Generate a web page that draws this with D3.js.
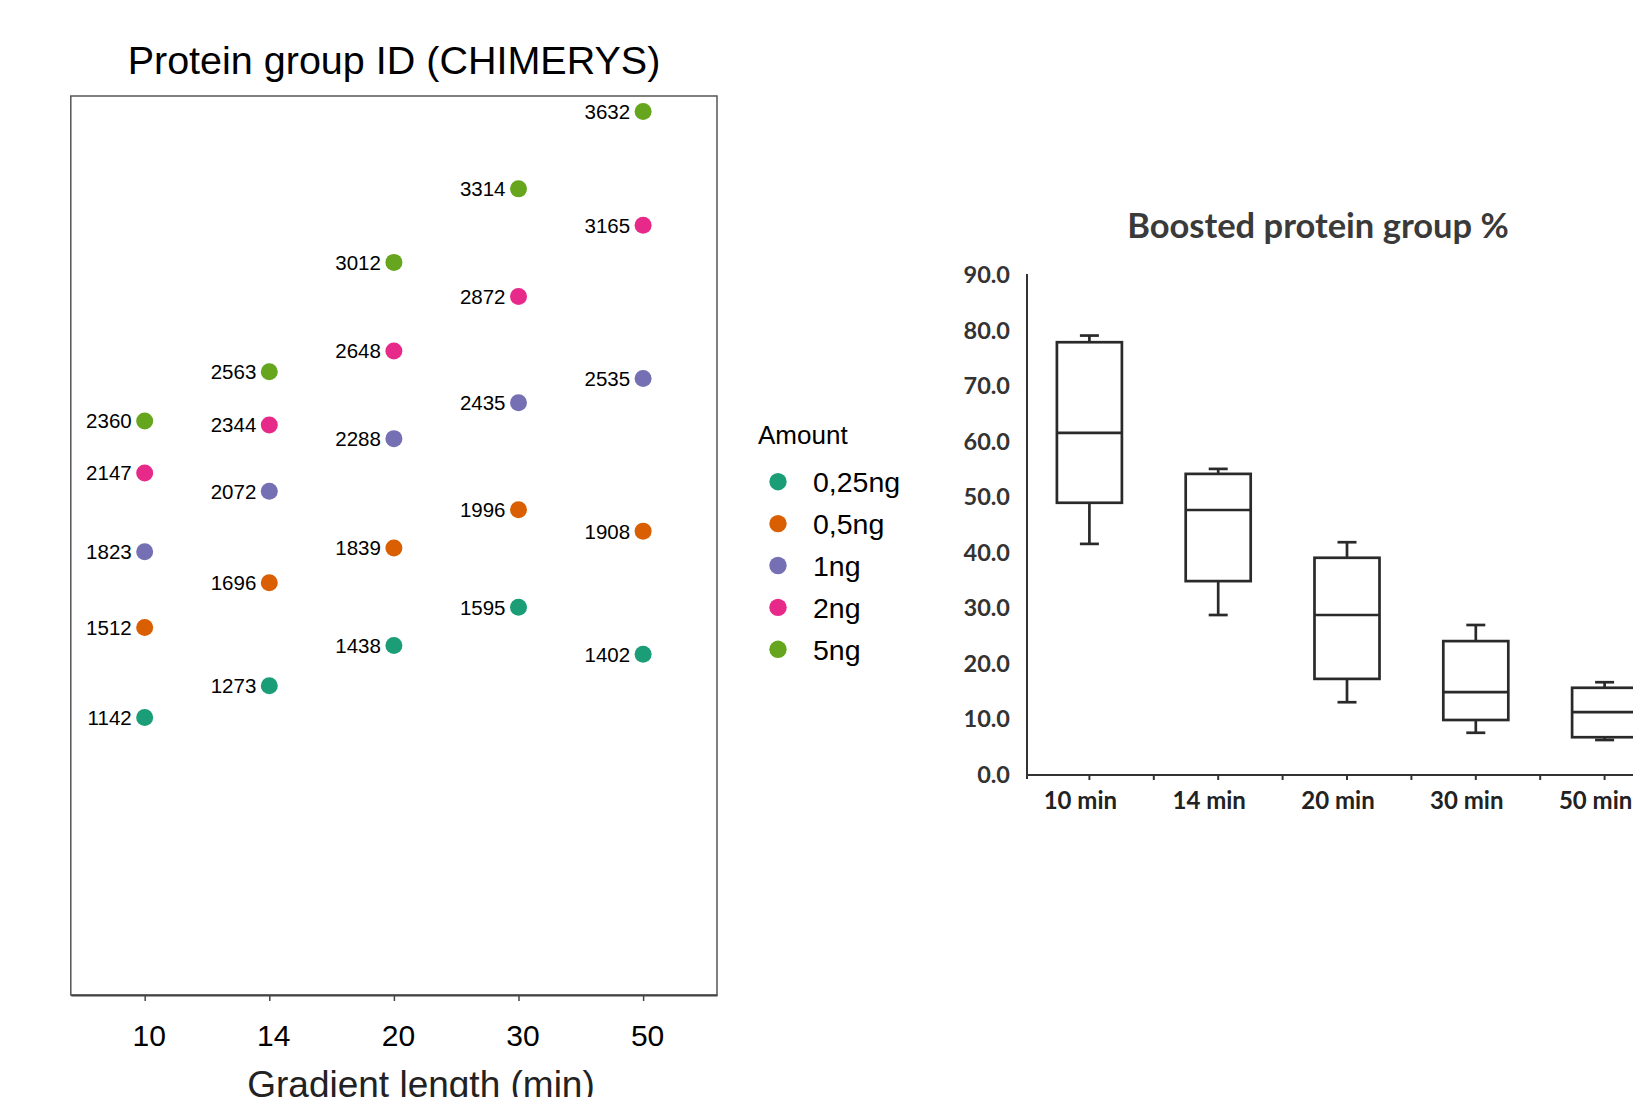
<!DOCTYPE html>
<html>
<head>
<meta charset="utf-8">
<script src="https://cdn.jsdelivr.net/npm/d3@7"></script>
<style>
  body { margin: 0; background: #fff; overflow: hidden; }
  svg { display: block; }
</style>
</head>
<body>
<div id="chart"></div>
<script>
// left panel: protein group IDs
var gradients = ["10", "14", "20", "30", "50"];
var amounts = ["0,25ng", "0,5ng", "1ng", "2ng", "5ng"];
var ids025 = [1142, 1273, 1438, 1595, 1402];
var ids05 = [1512, 1696, 1839, 1996, 1908];
var ids1 = [1823, 2072, 2288, 2435, 2535];
var ids2 = [2147, 2344, 2648, 2872, 3165];
var ids5 = [2360, 2563, 3012, 3314, 3632];
var amountColors = ["#1b9e77", "#d95f02", "#7570b3", "#e7298a", "#66a61e"];

// right panel: boosted protein group %
var boxCats = ["10 min", "14 min", "20 min", "30 min", "50 min"];
var whiskerLow = [41.6, 28.8, 13.1, 7.6, 6.3];
var q1 = [49.0, 34.9, 17.3, 9.9, 6.8];
var median = [61.6, 47.7, 28.8, 14.9, 11.3];
var q3 = [77.9, 54.2, 39.1, 24.1, 15.7];
var whiskerHigh = [79.1, 55.1, 41.9, 27.0, 16.7];
var boxTicks = [0, 10, 20, 30, 40, 50, 60, 70, 80, 90];

var W = 1633, H = 1097;
var svg = d3.select("#chart").append("svg")
    .attr("width", W)
    .attr("height", H);

// ---------- left panel ----------
var frame = {left: 70.8, right: 717, top: 96, bottom: 995};

var x = d3.scalePoint()
    .domain(gradients)
    .range([frame.left, frame.right])
    .padding(0.593);
var y = d3.scaleLinear()
    .domain([0, 3700])
    .range([995.6, 94.9]);
var color = d3.scaleOrdinal().domain(amounts).range(amountColors);

svg.append("text")
    .attr("x", 394)
    .attr("y", 74)
    .attr("text-anchor", "middle")
    .style("font-family", "Liberation Sans, Arial, sans-serif")
    .style("font-size", "39.5px")
    .style("fill", "#000")
    .text("Protein group ID (CHIMERYS)");

svg.append("rect")
    .attr("x", frame.left)
    .attr("y", frame.top)
    .attr("width", frame.right - frame.left)
    .attr("height", frame.bottom - frame.top)
    .attr("fill", "none")
    .attr("stroke", "#555")
    .attr("stroke-width", 1.5);

var xAxis = svg.append("g")
    .attr("transform", "translate(0," + frame.bottom + ")")
    .call(d3.axisBottom(x).tickSize(6).tickPadding(24).tickSizeOuter(0));
xAxis.select(".domain").attr("stroke", "#444").attr("stroke-width", 2);
xAxis.selectAll(".tick line").attr("stroke", "#444").attr("stroke-width", 1.5);
xAxis.selectAll(".tick text")
    .attr("dx", 4)
    .style("font-family", "Liberation Sans, Arial, sans-serif")
    .style("font-size", "30px")
    .style("fill", "#000");

svg.append("text")
    .attr("x", 421)
    .attr("y", 1097)
    .attr("text-anchor", "middle")
    .style("font-family", "Liberation Sans, Arial, sans-serif")
    .style("font-size", "37px")
    .style("fill", "#222")
    .text("Gradient length (min)");

var series = [ids025, ids05, ids1, ids2, ids5];
var points = [];
series.forEach(function (vals, s) {
    vals.forEach(function (v, i) {
        points.push({amount: amounts[s], grad: gradients[i], value: v});
    });
});

var pts = svg.append("g").selectAll("g")
    .data(points)
    .enter().append("g")
    .attr("transform", function (d) {
        return "translate(" + x(d.grad) + "," + y(d.value) + ")";
    });
pts.append("circle")
    .attr("r", 8.5)
    .attr("fill", function (d) { return color(d.amount); });
pts.append("text")
    .attr("x", -13)
    .attr("dy", "0.36em")
    .attr("text-anchor", "end")
    .style("font-family", "Liberation Sans, Arial, sans-serif")
    .style("font-size", "20.5px")
    .style("fill", "#000")
    .text(function (d) { return d.value; });

// legend
var legend = svg.append("g");
legend.append("text")
    .attr("x", 758)
    .attr("y", 444)
    .style("font-family", "Liberation Sans, Arial, sans-serif")
    .style("font-size", "26px")
    .style("fill", "#000")
    .text("Amount");
var items = legend.selectAll(".item")
    .data(amounts)
    .enter().append("g")
    .attr("class", "item")
    .attr("transform", function (d, i) {
        return "translate(778," + (481.7 + i * 41.9) + ")";
    });
items.append("circle")
    .attr("r", 8.7)
    .attr("fill", function (d) { return color(d); });
items.append("text")
    .attr("x", 35)
    .attr("dy", "0.36em")
    .style("font-family", "Liberation Sans, Arial, sans-serif")
    .style("font-size", "28.5px")
    .style("fill", "#000")
    .text(function (d) { return d; });

// ---------- right panel ----------
var ink = "#333";
var xb = d3.scaleBand()
    .domain(boxCats)
    .range([1025, 1669])
    .padding(0);
var yb = d3.scaleLinear()
    .domain([0, 90])
    .range([775, 275]);
var boxW = 65, capW = 19;

svg.append("text")
    .attr("x", 1318)
    .attr("y", 238)
    .attr("text-anchor", "middle")
    .style("font-family", "Lato, sans-serif")
    .style("font-weight", "bold")
    .style("font-size", "34.5px")
    .style("fill", "#3a3a3a")
    .text("Boosted protein group %");

var yAxisB = svg.append("g")
    .attr("transform", "translate(1027,0)")
    .call(d3.axisLeft(yb).tickValues(boxTicks).tickSize(0).tickPadding(17)
        .tickFormat(d3.format(".1f")));
yAxisB.select(".domain").remove();
yAxisB.selectAll(".tick text")
    .style("font-family", "Lato, sans-serif")
    .style("font-weight", "bold")
    .style("font-size", "23.5px")
    .style("fill", ink);
svg.append("line")
    .attr("x1", 1027).attr("x2", 1027)
    .attr("y1", yb(90) - 1).attr("y2", yb(0) + 4)
    .attr("stroke", ink).attr("stroke-width", 2);

var xAxisB = svg.append("g")
    .attr("transform", "translate(0," + yb(0) + ")")
    .call(d3.axisBottom(xb).tickSize(5).tickPadding(12).tickSizeOuter(0));
xAxisB.select(".domain").remove();
xAxisB.selectAll(".tick line").attr("stroke", ink).attr("stroke-width", 2);
xAxisB.selectAll(".tick text")
    .attr("dx", -9)
    .style("font-family", "Lato, sans-serif")
    .style("font-weight", "bold")
    .style("font-size", "24px")
    .style("fill", "#222");
svg.append("line")
    .attr("x1", 1026).attr("x2", W + 10)
    .attr("y1", yb(0)).attr("y2", yb(0))
    .attr("stroke", ink).attr("stroke-width", 2);
// minor ticks between categories
svg.append("g").selectAll("line")
    .data(boxCats.slice(1))
    .enter().append("line")
    .attr("x1", function (d) { return xb(d); })
    .attr("x2", function (d) { return xb(d); })
    .attr("y1", yb(0))
    .attr("y2", yb(0) + 5)
    .attr("stroke", ink).attr("stroke-width", 2);

var boxes = boxCats.map(function (c, i) {
    return {cat: c, lo: whiskerLow[i], q1: q1[i], med: median[i], q3: q3[i], hi: whiskerHigh[i]};
});
var bg = svg.append("g").selectAll("g")
    .data(boxes)
    .enter().append("g")
    .attr("transform", function (d) {
        return "translate(" + (xb(d.cat) + xb.bandwidth() / 2) + ",0)";
    })
    .attr("stroke", "#2a2a2a")
    .attr("stroke-width", 2.7)
    .attr("fill", "none");
bg.append("line")
    .attr("x1", 0).attr("x2", 0)
    .attr("y1", function (d) { return yb(d.hi); })
    .attr("y2", function (d) { return yb(d.q3); });
bg.append("line")
    .attr("x1", 0).attr("x2", 0)
    .attr("y1", function (d) { return yb(d.q1); })
    .attr("y2", function (d) { return yb(d.lo); });
bg.append("line")
    .attr("x1", -capW / 2).attr("x2", capW / 2)
    .attr("y1", function (d) { return yb(d.hi); })
    .attr("y2", function (d) { return yb(d.hi); });
bg.append("line")
    .attr("x1", -capW / 2).attr("x2", capW / 2)
    .attr("y1", function (d) { return yb(d.lo); })
    .attr("y2", function (d) { return yb(d.lo); });
bg.append("rect")
    .attr("x", -boxW / 2)
    .attr("width", boxW)
    .attr("y", function (d) { return yb(d.q3); })
    .attr("height", function (d) { return yb(d.q1) - yb(d.q3); })
    .attr("fill", "#fff");
bg.append("line")
    .attr("x1", -boxW / 2).attr("x2", boxW / 2)
    .attr("y1", function (d) { return yb(d.med); })
    .attr("y2", function (d) { return yb(d.med); });
</script>
</body>
</html>
